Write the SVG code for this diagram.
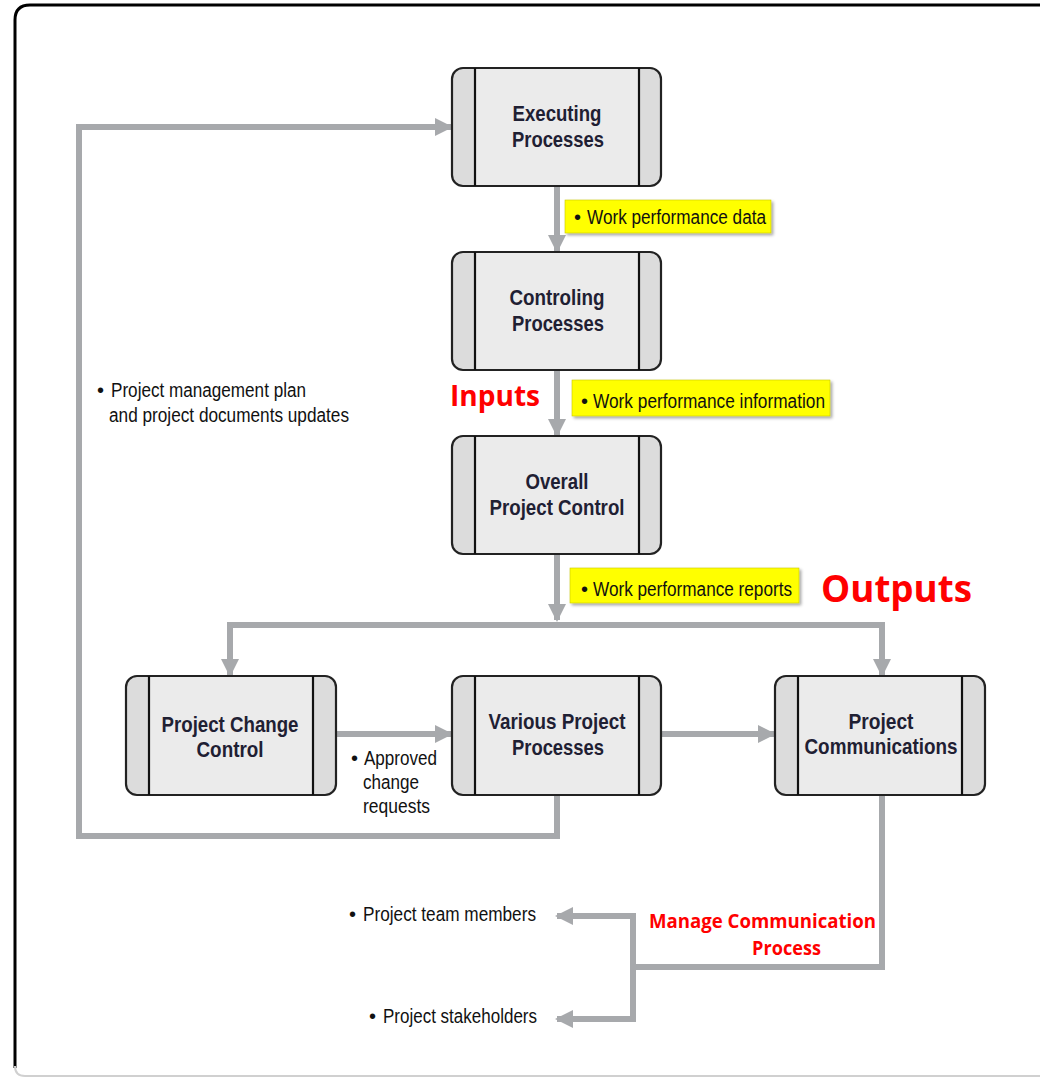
<svg xmlns="http://www.w3.org/2000/svg" width="1040" height="1077" viewBox="0 0 1040 1077">
  <defs>
    <style>
      .box { fill: #dcdcdc; stroke: #222; stroke-width: 2.2; }
      .core { fill: #ebebeb; stroke: none; }
      .bar { stroke: #111; stroke-width: 2.2; }
      .btxt { font-family: "Liberation Sans", Arial, sans-serif; font-size: 22px; font-weight: bold; fill: #1f2033; text-anchor: middle; }
      .lbl { font-family: "Liberation Sans", Arial, sans-serif; font-size: 20px; fill: #111; }
      .red { font-family: "Open Sans", "Liberation Sans", sans-serif; font-weight: bold; fill: #ff0000; }
      .tag { fill: #ffff00; stroke: #c8c800; stroke-width: 0.6; filter: url(#shadow); }
      .wire { fill: none; stroke: #a7a9ac; stroke-width: 6; }
    </style>
    <filter id="shadow" x="-10%" y="-30%" width="120%" height="160%">
      <feDropShadow dx="2" dy="2" stdDeviation="1.5" flood-color="#000" flood-opacity="0.35"/>
    </filter>
    <marker id="head" markerUnits="userSpaceOnUse" markerWidth="18" markerHeight="18" viewBox="0 0 18 18" refX="16" refY="9" orient="auto">
      <path d="M0,0 L18,9 L0,18 Z" fill="#a7a9ac"/>
    </marker>
  </defs>

  <rect width="1040" height="1077" fill="#fff"/>

  <!-- frame -->
  <path d="M15,1068 L15,20 Q15,5 30,5 L1040,5" fill="none" stroke="#000" stroke-width="3"/>
  <path d="M15,1066 Q15,1076 25,1076 L1040,1076" fill="none" stroke="#d0d0d0" stroke-width="2"/>

  <!-- connectors -->
  <g id="connectors">
    <line class="wire" x1="557" y1="187" x2="557" y2="251" marker-end="url(#head)"/>
    <line class="wire" x1="557" y1="371" x2="557" y2="435" marker-end="url(#head)"/>
    <line class="wire" x1="557" y1="555" x2="557" y2="620" marker-end="url(#head)"/>
    <polyline class="wire" points="230,675 230,625 882,625 882,675" marker-end="url(#head)"/>
    <line class="wire" x1="230" y1="640" x2="230" y2="675" marker-end="url(#head)"/>
    <line class="wire" x1="337" y1="734" x2="451" y2="734" marker-end="url(#head)"/>
    <line class="wire" x1="662" y1="734" x2="774" y2="734" marker-end="url(#head)"/>
    <polyline class="wire" points="557,796 557,836 79,836 79,127 451,127" marker-end="url(#head)"/>
    <polyline class="wire" points="882,796 882,967 633,967"/>
    <polyline class="wire" points="633,915 633,1019"/>
    <polyline class="wire" points="636,916 557,916" marker-end="url(#head)"/>
    <polyline class="wire" points="636,1019 557,1019" marker-end="url(#head)"/>
  </g>

  <!-- process boxes -->
  <g id="executing">
    <rect class="box" x="452" y="68" width="209" height="118" rx="11"/>
    <rect class="core" x="475" y="69" width="164" height="116"/>
    <line class="bar" x1="475" y1="68" x2="475" y2="186"/>
    <line class="bar" x1="639" y1="68" x2="639" y2="186"/>
    <text class="btxt" x="557" y="121" textLength="89" lengthAdjust="spacingAndGlyphs">Executing</text>
    <text class="btxt" x="558" y="147" textLength="92" lengthAdjust="spacingAndGlyphs">Processes</text>
  </g>

  <g id="controlling">
    <rect class="box" x="452" y="252" width="209" height="118" rx="11"/>
    <rect class="core" x="475" y="253" width="164" height="116"/>
    <line class="bar" x1="475" y1="252" x2="475" y2="370"/>
    <line class="bar" x1="639" y1="252" x2="639" y2="370"/>
    <text class="btxt" x="557" y="305" textLength="95" lengthAdjust="spacingAndGlyphs">Controling</text>
    <text class="btxt" x="558" y="331" textLength="92" lengthAdjust="spacingAndGlyphs">Processes</text>
  </g>

  <g id="overall-control">
    <rect class="box" x="452" y="436" width="209" height="118" rx="11"/>
    <rect class="core" x="475" y="437" width="164" height="116"/>
    <line class="bar" x1="475" y1="436" x2="475" y2="554"/>
    <line class="bar" x1="639" y1="436" x2="639" y2="554"/>
    <text class="btxt" x="557" y="489" textLength="63" lengthAdjust="spacingAndGlyphs">Overall</text>
    <text class="btxt" x="557" y="515" textLength="135" lengthAdjust="spacingAndGlyphs">Project Control</text>
  </g>

  <g id="change-control">
    <rect class="box" x="126" y="676" width="210" height="119" rx="11"/>
    <rect class="core" x="149" y="677" width="164" height="117"/>
    <line class="bar" x1="149" y1="676" x2="149" y2="795"/>
    <line class="bar" x1="313" y1="676" x2="313" y2="795"/>
    <text class="btxt" x="230" y="732" textLength="137" lengthAdjust="spacingAndGlyphs">Project Change</text>
    <text class="btxt" x="230" y="757" textLength="67" lengthAdjust="spacingAndGlyphs">Control</text>
  </g>

  <g id="various-processes">
    <rect class="box" x="452" y="676" width="209" height="119" rx="11"/>
    <rect class="core" x="475" y="677" width="164" height="117"/>
    <line class="bar" x1="475" y1="676" x2="475" y2="795"/>
    <line class="bar" x1="639" y1="676" x2="639" y2="795"/>
    <text class="btxt" x="557" y="729" textLength="137" lengthAdjust="spacingAndGlyphs">Various Project</text>
    <text class="btxt" x="558" y="755" textLength="92" lengthAdjust="spacingAndGlyphs">Processes</text>
  </g>

  <g id="communications">
    <rect class="box" x="775" y="676" width="210" height="119" rx="11"/>
    <rect class="core" x="798" y="677" width="164" height="117"/>
    <line class="bar" x1="798" y1="676" x2="798" y2="795"/>
    <line class="bar" x1="962" y1="676" x2="962" y2="795"/>
    <text class="btxt" x="881" y="729" textLength="65" lengthAdjust="spacingAndGlyphs">Project</text>
    <text class="btxt" x="881" y="754" textLength="153" lengthAdjust="spacingAndGlyphs">Communications</text>
  </g>

  <!-- data labels -->
  <g id="label-wpd">
    <rect class="tag" x="565" y="200" width="206" height="33"/>
    <text class="lbl" x="574" y="224">•</text>
    <text class="lbl" x="587" y="224" textLength="179" lengthAdjust="spacingAndGlyphs">Work performance data</text>
  </g>
  <g id="label-wpi">
    <rect class="tag" x="572" y="380" width="258" height="36"/>
    <text class="lbl" x="581" y="408">•</text>
    <text class="lbl" x="593" y="408" textLength="232" lengthAdjust="spacingAndGlyphs">Work performance information</text>
  </g>
  <g id="label-wpr">
    <rect class="tag" x="570" y="568" width="229" height="35"/>
    <text class="lbl" x="581" y="596">•</text>
    <text class="lbl" x="593" y="596" textLength="199" lengthAdjust="spacingAndGlyphs">Work performance reports</text>
  </g>

  <g id="label-updates">
    <text class="lbl" x="97" y="397">•</text>
    <text class="lbl" x="111" y="397" textLength="195" lengthAdjust="spacingAndGlyphs">Project management plan</text>
    <text class="lbl" x="109" y="422" textLength="240" lengthAdjust="spacingAndGlyphs">and project documents updates</text>
  </g>

  <g id="label-approved">
    <text class="lbl" x="351" y="765">•</text>
    <text class="lbl" x="364" y="765" textLength="73" lengthAdjust="spacingAndGlyphs">Approved</text>
    <text class="lbl" x="363" y="789" textLength="56" lengthAdjust="spacingAndGlyphs">change</text>
    <text class="lbl" x="363" y="813" textLength="67" lengthAdjust="spacingAndGlyphs">requests</text>
  </g>

  <g id="label-team">
    <text class="lbl" x="349" y="921">•</text>
    <text class="lbl" x="363" y="921" textLength="173" lengthAdjust="spacingAndGlyphs">Project team members</text>
  </g>
  <g id="label-stakeholders">
    <text class="lbl" x="369" y="1023">•</text>
    <text class="lbl" x="383" y="1023" textLength="154" lengthAdjust="spacingAndGlyphs">Project stakeholders</text>
  </g>

  <!-- red annotations -->
  <text class="red" x="450" y="406" font-size="29" textLength="90" lengthAdjust="spacingAndGlyphs">Inputs</text>
  <text class="red" x="821" y="602" font-size="37" textLength="151" lengthAdjust="spacingAndGlyphs">Outputs</text>
  <text class="red" x="649" y="928" font-size="19" textLength="227" lengthAdjust="spacingAndGlyphs">Manage Communication</text>
  <text class="red" x="752" y="955" font-size="19" textLength="69" lengthAdjust="spacingAndGlyphs">Process</text>
</svg>
